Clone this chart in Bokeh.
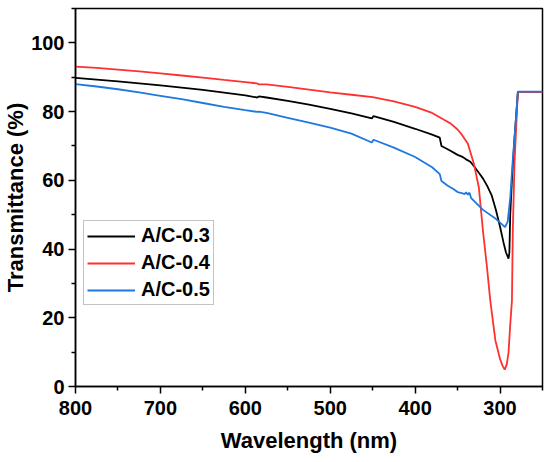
from bokeh.plotting import figure
from bokeh.models import Range1d, FixedTicker, Legend, LegendItem
from bokeh.embed import file_html
from bokeh.resources import INLINE

# ---- data ----
wl_03 = [800, 775, 750, 725, 700, 675, 650, 625, 600, 586, 584, 575, 550, 525, 500, 475,
         451, 449, 425, 400, 380, 371, 369, 360, 350, 345, 340, 335, 330, 325, 320, 315,
         310, 305, 300, 296, 293, 290, 289, 288, 286, 283, 279, 250]
t_03 = [89.8, 89.3, 88.8, 88.2, 87.6, 87.0, 86.3, 85.5, 84.7, 84.1, 84.4, 84.1, 83.1, 82.0, 80.8, 79.5,
        78.0, 78.7, 77.0, 75.0, 73.3, 72.4, 70.0, 68.8, 67.4, 66.9, 66.1, 65.4, 63.9, 62.2, 60.5, 58.3,
        55.7, 51.5, 46.5, 42.0, 39.0, 37.2, 39.0, 50.0, 60.0, 72.0, 85.7, 85.7]

wl_04 = [800, 775, 750, 725, 700, 675, 650, 625, 600, 586, 584, 575, 550, 525, 500, 475,
         450, 425, 400, 380, 366, 358, 350, 346, 338, 331, 325, 320, 315.5, 311.5, 305.5, 300,
         297, 294.5, 292, 290, 288, 286, 285, 283, 279, 250]
t_04 = [93.1, 92.7, 92.2, 91.7, 91.1, 90.5, 89.9, 89.2, 88.6, 88.2, 87.9, 87.9, 87.2, 86.4, 85.6, 84.9,
        84.2, 83.0, 81.4, 79.6, 77.6, 76.5, 74.8, 73.6, 70.7, 65.0, 58.0, 45.0, 35.0, 25.0, 13.4, 8.0,
        6.0, 4.9, 6.5, 10.0, 18.0, 25.0, 45.0, 65.0, 85.7, 85.7]

wl_05 = [800, 775, 750, 725, 700, 675, 650, 625, 600, 586, 584, 575, 550, 525, 500, 475,
         451, 449, 425, 400, 380, 371, 369, 362, 355, 350, 345, 342, 340, 338, 336, 334,
         320, 305, 296, 294, 291, 288, 285, 282, 279, 250]
t_05 = [88.0, 87.3, 86.5, 85.6, 84.6, 83.6, 82.5, 81.4, 80.4, 79.9, 80.0, 79.6, 78.2, 76.8, 75.3, 73.6,
        71.0, 71.8, 69.5, 66.8, 63.8, 61.8, 59.8, 58.5, 57.5, 56.6, 56.3, 56.0, 56.5, 55.8, 56.4, 54.8,
        51.4, 48.8, 46.8, 46.4, 48.0, 55.0, 66.0, 75.6, 85.8, 85.8]

labels = ["A/C-0.3", "A/C-0.4", "A/C-0.5"]
colors = ["#000000", "#ff3030", "#1f78e0"]

x_major = [800, 700, 600, 500, 400, 300]
x_minor = [750, 650, 550, 450, 350, 250]
y_major = [0, 20, 40, 60, 80, 100]
y_minor = [10, 30, 50, 70, 90, 110]

FONT = "Liberation Sans"

p = figure(width=550, height=462, output_backend="svg", toolbar_location=None,
           x_range=Range1d(800, 250), y_range=Range1d(0, 110),
           min_border_left=75, min_border_right=8, min_border_top=8, min_border_bottom=76)

p.xgrid.visible = False
p.ygrid.visible = False
p.outline_line_color = "#000000"
p.outline_line_width = 1.5
p.background_fill_color = "white"
p.border_fill_color = "white"

renderers = []
for wl, t, c in zip([wl_03, wl_04, wl_05], [t_03, t_04, t_05], colors):
    r = p.line(wl, t, line_color=c, line_width=1.8)
    renderers.append(r)

p.xaxis.ticker = FixedTicker(ticks=x_major, minor_ticks=x_minor)
p.yaxis.ticker = FixedTicker(ticks=y_major, minor_ticks=y_minor)

for ax in (p.xaxis[0], p.yaxis[0]):
    ax.axis_line_width = 1.5
    ax.axis_line_color = "black"
    ax.major_tick_line_width = 1.5
    ax.minor_tick_line_width = 1.5
    ax.major_tick_out = 7
    ax.major_tick_in = 0
    ax.minor_tick_out = 4
    ax.minor_tick_in = 0
    ax.major_label_text_font = FONT
    ax.major_label_text_font_style = "bold"
    ax.major_label_text_font_size = "20px"
    ax.major_label_text_color = "black"
    ax.axis_label_text_font = FONT
    ax.axis_label_text_font_style = "bold"
    ax.axis_label_text_font_size = "22px"
    ax.axis_label_text_color = "black"

p.xaxis.axis_label = "Wavelength (nm)"
p.yaxis.axis_label = "Transmittance (%)"
p.xaxis.major_label_standoff = 7
p.xaxis.axis_label_standoff = 10
p.yaxis.major_label_standoff = 4
p.yaxis.axis_label_standoff = 0

legend = Legend(items=[LegendItem(label=l, renderers=[r]) for l, r in zip(labels, renderers)],
                location=(8, 81))
legend.label_text_font = FONT
legend.label_text_font_style = "bold"
legend.label_text_font_size = "20px"
legend.label_text_color = "black"
legend.glyph_width = 48
legend.glyph_height = 22
legend.spacing = 4
legend.padding = 3
legend.margin = 0
legend.label_standoff = 6
legend.label_height = 22
legend.border_line_color = "#888888"
legend.border_line_width = 1.2
legend.background_fill_alpha = 1.0
p.add_layout(legend, "center")

open("out.html", "w").write(file_html(p, INLINE))
